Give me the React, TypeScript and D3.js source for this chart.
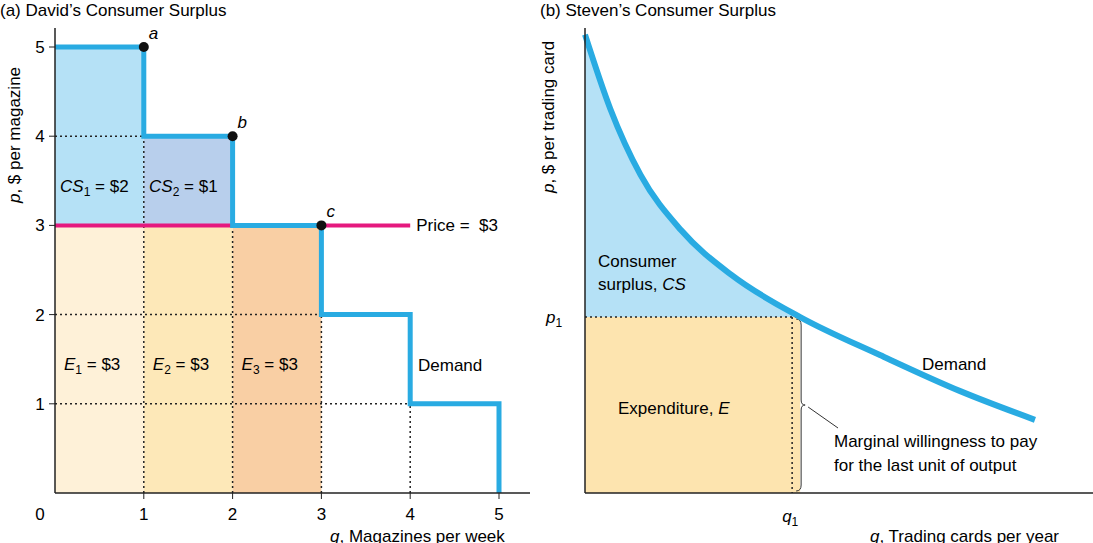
import { useEffect, useRef } from "react";
import * as d3 from "d3";

// Left panel: David's step demand
const stepQ = [0, 1, 1, 2, 2, 3, 3, 4, 4, 5, 5];
const stepP = [5, 5, 4, 4, 3, 3, 2, 2, 1, 1, 0];
const points = [
  { q: 1, p: 5, label: "a" },
  { q: 2, p: 4, label: "b" },
  { q: 3, p: 3, label: "c" },
];
const ticks = [0, 1, 2, 3, 4, 5];
const price = 3;
const expFills = ["#fef1d8", "#fde8b8", "#f9cfa4"];
const expLabels = ["1", "2", "3"];

// Right panel: Steven's smooth demand
const curveQ = [0, 0.5, 1.1, 1.9, 2.9, 4.26, 5.84, 7.43, 8.91];
const curveP = [9.9, 8.3, 6.87, 5.68, 4.71, 3.8, 2.98, 2.2, 1.58];
const q1 = 4.26;
const p1 = 3.8;

const BLUE = "#29abe2";
const FONT = "Arial, 'Liberation Sans', sans-serif";
const FS = 17;

export default function App() {
  const ref = useRef<SVGSVGElement>(null);
  useEffect(() => {
    const svg = d3.select(ref.current);
    svg.selectAll("*").remove();
    svg.style("font-family", FONT);

    // ---------- left ----------
    const x = d3.scaleLinear().domain([0, 5]).range([55, 499]);
    const y = d3.scaleLinear().domain([0, 5]).range([493, 47]);
    const L = svg.append("g");

    L.append("rect").attr("x", x(0)).attr("y", y(5)).attr("width", x(1) - x(0)).attr("height", y(3) - y(5)).attr("fill", "#b5e1f6");
    L.append("rect").attr("x", x(1)).attr("y", y(4)).attr("width", x(2) - x(1)).attr("height", y(3) - y(4)).attr("fill", "#b8cfec");
    expFills.forEach((c, i) => {
      L.append("rect").attr("x", x(i)).attr("y", y(3)).attr("width", x(i + 1) - x(i)).attr("height", y(0) - y(3)).attr("fill", c);
    });

    const dot = (x1: number, y1: number, x2: number, y2: number) =>
      L.append("line").attr("x1", x1).attr("y1", y1).attr("x2", x2).attr("y2", y2)
        .attr("stroke", "#222").attr("stroke-width", 1.5).attr("stroke-dasharray", "2,3");
    dot(x(0), y(4), x(1), y(4));
    dot(x(0), y(2), x(3), y(2));
    dot(x(0), y(1), x(4), y(1));
    dot(x(1), y(0), x(1), y(4));
    dot(x(2), y(0), x(2), y(3));
    dot(x(3), y(0), x(3), y(2));
    dot(x(4), y(0), x(4), y(1));

    L.append("line").attr("x1", x(0)).attr("x2", x(4)).attr("y1", y(price)).attr("y2", y(price))
      .attr("stroke", "#e5197e").attr("stroke-width", 4);
    L.append("text").attr("x", x(4) + 6).attr("y", y(price) + 6).attr("font-size", FS).attr("xml:space", "preserve").text("Price =  $3");

    const line = d3.line<number>().x((_, i) => x(stepQ[i])).y((d) => y(d));
    L.append("path").attr("d", line(stepP)).attr("fill", "none").attr("stroke", BLUE)
      .attr("stroke-width", 5).attr("stroke-linejoin", "miter");

    points.forEach((d) => {
      L.append("circle").attr("cx", x(d.q)).attr("cy", y(d.p)).attr("r", 5).attr("fill", "#111");
      L.append("text").attr("x", x(d.q) + 5).attr("y", y(d.p) - 8).attr("font-size", FS)
        .attr("font-style", "italic").text(d.label);
    });

    L.append("line").attr("x1", 55).attr("x2", 55).attr("y1", 28).attr("y2", 493).attr("stroke", "#222").attr("stroke-width", 1.5);
    L.append("line").attr("x1", 55).attr("x2", 530).attr("y1", 493).attr("y2", 493).attr("stroke", "#222").attr("stroke-width", 1.5);
    ticks.forEach((t) => {
      if (t > 0) {
        L.append("line").attr("x1", x(t)).attr("x2", x(t)).attr("y1", 493).attr("y2", 499).attr("stroke", "#222");
        L.append("line").attr("x1", 49).attr("x2", 55).attr("y1", y(t)).attr("y2", y(t)).attr("stroke", "#222");
        L.append("text").attr("x", 40).attr("y", y(t) + 6).attr("text-anchor", "middle").attr("font-size", FS).text(t);
      }
      L.append("text").attr("x", t === 0 ? 40 : x(t)).attr("y", 520).attr("text-anchor", "middle").attr("font-size", FS).text(t);
    });

    const sub = (g: any, xx: number, yy: number, base: string, s: string, rest: string) => {
      const t = g.append("text").attr("x", xx).attr("y", yy).attr("font-size", FS);
      t.append("tspan").attr("font-style", "italic").text(base);
      t.append("tspan").attr("font-size", 12).attr("dy", 4).text(s);
      t.append("tspan").attr("dy", -4).text(rest);
    };
    sub(L, 60, 192, "CS", "1", " = $2");
    sub(L, 149, 192, "CS", "2", " = $1");
    expLabels.forEach((s, i) => sub(L, x(i) + 9, 370, "E", s, " = $3"));
    L.append("text").attr("x", 418).attr("y", 371).attr("font-size", FS).text("Demand");

    L.append("text").attr("x", 0).attr("y", 16).attr("font-size", FS).text("(a) David\u2019s Consumer Surplus");
    const yl = L.append("text").attr("transform", "translate(20,135) rotate(-90)").attr("text-anchor", "middle").attr("font-size", FS);
    yl.append("tspan").attr("font-style", "italic").text("p");
    yl.append("tspan").text(", $ per magazine");
    const xl = L.append("text").attr("x", 330).attr("y", 542).attr("font-size", FS);
    xl.append("tspan").attr("font-style", "italic").text("q");
    xl.append("tspan").text(", Magazines per week");

    // ---------- right ----------
    const X = d3.scaleLinear().domain([0, 10]).range([585, 1090]);
    const Y = d3.scaleLinear().domain([0, 10]).range([493, 30]);
    const R = svg.append("g");
    const pts = curveQ.map((q, i) => [q, curveP[i]] as [number, number]);
    const curve = d3.line<[number, number]>().x((d) => X(d[0])).y((d) => Y(d[1])).curve(d3.curveMonotoneX);

    const csPts = pts.filter((d) => d[0] <= q1);
    const area = d3.area<[number, number]>().x((d) => X(d[0])).y0(Y(p1)).y1((d) => Y(d[1])).curve(d3.curveMonotoneX);
    R.append("path").attr("d", area(csPts)).attr("fill", "#b5e1f6");
    R.append("rect").attr("x", X(0)).attr("y", Y(p1)).attr("width", X(q1) - X(0)).attr("height", Y(0) - Y(p1)).attr("fill", "#fde4af");

    R.append("line").attr("x1", X(0)).attr("x2", X(q1)).attr("y1", Y(p1)).attr("y2", Y(p1))
      .attr("stroke", "#222").attr("stroke-width", 1.5).attr("stroke-dasharray", "2,3");
    R.append("line").attr("x1", X(q1) - 8).attr("x2", X(q1) - 8).attr("y1", Y(p1)).attr("y2", Y(0))
      .attr("stroke", "#222").attr("stroke-width", 1.5).attr("stroke-dasharray", "2,3");
    const bx = X(q1) - 4, by0 = Y(p1) + 2, by1 = Y(0) - 2, bm = (by0 + by1) / 2;
    R.append("path").attr("d", `M${bx},${by0} Q${bx + 5},${by0} ${bx + 5},${by0 + 6} L${bx + 5},${bm - 5} Q${bx + 5},${bm} ${bx + 9},${bm} Q${bx + 5},${bm} ${bx + 5},${bm + 5} L${bx + 5},${by1 - 6} Q${bx + 5},${by1} ${bx},${by1}`)
      .attr("fill", "none").attr("stroke", "#333").attr("stroke-width", 1);
    R.append("line").attr("x1", bx + 12).attr("y1", bm + 2).attr("x2", 838).attr("y2", 428).attr("stroke", "#333");

    R.append("path").attr("d", curve(pts)).attr("fill", "none").attr("stroke", BLUE).attr("stroke-width", 6);

    R.append("line").attr("x1", 585).attr("x2", 585).attr("y1", 28).attr("y2", 493).attr("stroke", "#222").attr("stroke-width", 1.5);
    R.append("line").attr("x1", 585).attr("x2", 1093).attr("y1", 493).attr("y2", 493).attr("stroke", "#222").attr("stroke-width", 1.5);

    R.append("text").attr("x", 540).attr("y", 16).attr("font-size", FS).text("(b) Steven\u2019s Consumer Surplus");
    const yr = R.append("text").attr("transform", "translate(554,117) rotate(-90)").attr("text-anchor", "middle").attr("font-size", FS);
    yr.append("tspan").attr("font-style", "italic").text("p");
    yr.append("tspan").text(", $ per trading card");
    const xr = R.append("text").attr("x", 870).attr("y", 542).attr("font-size", FS);
    xr.append("tspan").attr("font-style", "italic").text("q");
    xr.append("tspan").text(", Trading cards per year");

    const p1t = R.append("text").attr("x", 546).attr("y", Y(p1) + 6).attr("font-size", FS);
    p1t.append("tspan").attr("font-style", "italic").text("p");
    p1t.append("tspan").attr("font-size", 12).attr("dy", 4).text("1");
    const q1t = R.append("text").attr("x", X(q1) - 18).attr("y", 522).attr("font-size", FS);
    q1t.append("tspan").attr("font-style", "italic").text("q");
    q1t.append("tspan").attr("font-size", 12).attr("dy", 4).text("1");

    R.append("text").attr("x", 598).attr("y", 267).attr("font-size", FS).text("Consumer");
    const cs = R.append("text").attr("x", 598).attr("y", 290).attr("font-size", FS);
    cs.append("tspan").text("surplus, ");
    cs.append("tspan").attr("font-style", "italic").text("CS");
    const ex = R.append("text").attr("x", 618).attr("y", 414).attr("font-size", FS);
    ex.append("tspan").text("Expenditure, ");
    ex.append("tspan").attr("font-style", "italic").text("E");
    R.append("text").attr("x", 922).attr("y", 370).attr("font-size", FS).text("Demand");
    R.append("text").attr("x", 834).attr("y", 447).attr("font-size", FS).text("Marginal willingness to pay");
    R.append("text").attr("x", 834).attr("y", 471).attr("font-size", FS).text("for the last unit of output");
  }, []);
  return <svg ref={ref} width={1093} height={543} style={{ position: "absolute", left: 0, top: 0, background: "#fff" }} />;
}
